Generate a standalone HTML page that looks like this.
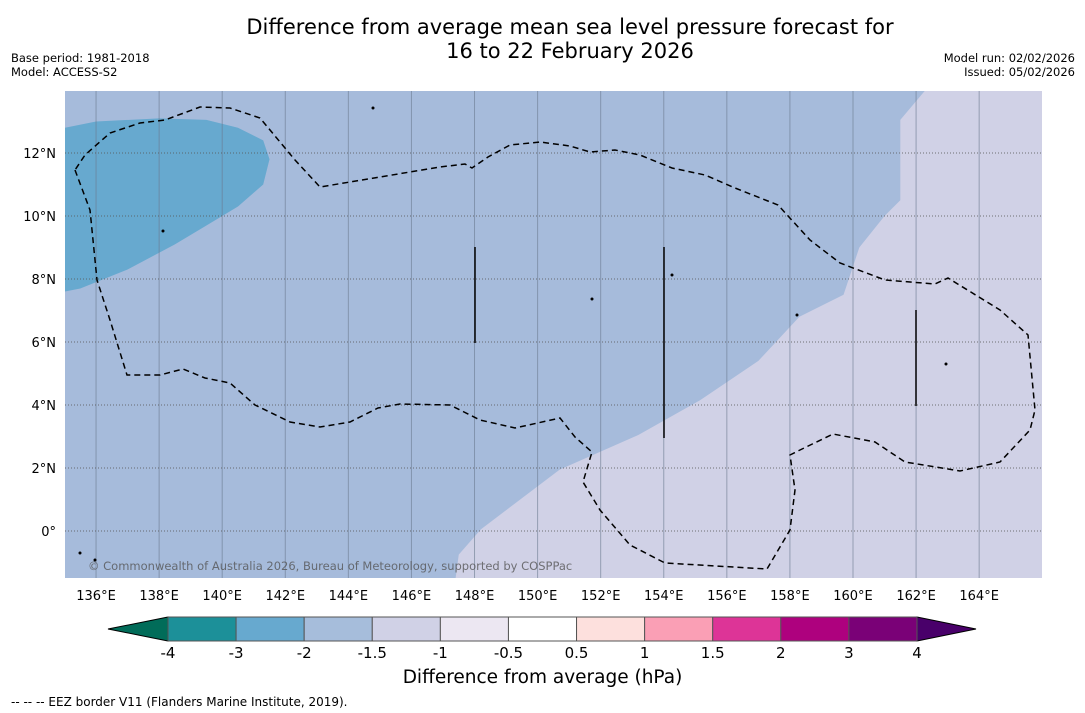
<!DOCTYPE html>
<html><head><meta charset="utf-8"><style>
body{margin:0;width:1085px;height:713px;background:#fff;font-family:"DejaVu Sans","Liberation Sans",sans-serif;position:relative;overflow:hidden}
.t{position:absolute;color:#000}
</style></head><body>
<div class="t" style="left:0;width:1140px;top:15px;text-align:center;font-size:21px;line-height:24px">Difference from average mean sea level pressure forecast for<br>16 to 22 February 2026</div>
<div class="t" style="left:11px;top:51px;font-size:11.5px;line-height:14px">Base period: 1981-2018<br>Model: ACCESS-S2</div>
<div class="t" style="right:10px;top:51px;font-size:11.5px;line-height:14px;text-align:right">Model run: 02/02/2026<br>Issued: 05/02/2026</div>
<svg id="map" width="1085" height="713" style="position:absolute;left:0;top:0"></svg>
<div class="t" style="left:0;width:1085px;top:667px;text-align:center;font-size:18.5px">Difference from average (hPa)</div>
<div class="t" style="left:11px;top:695px;font-size:12px">--  --  -- EEZ border V11 (Flanders Marine Institute, 2019).</div>
<script>
const lonTicks=[136,138,140,142,144,146,148,150,152,154,156,158,160,162,164];
const latTicks=[12,10,8,6,4,2,0];
const cbLevels=["-4","-3","-2","-1.5","-1","-0.5","0.5","1","1.5","2","3","4"];
const cbColors=["#1c9099","#67a9cf","#a6bddb","#d0d1e6","#ece7f2","#ffffff","#fde0dd","#fa9fb5","#dd3497","#ae017e","#7a0177"];
const darkRegion=[[135,12.8],[136,13.0],[138,13.1],[139.5,13.05],[140.5,12.8],[141.3,12.4],[141.5,11.8],[141.3,11],[140.5,10.3],[139.5,9.7],[138.5,9.1],[137,8.3],[135.5,7.7],[135,7.6]];
const lightRegion=[[162.3,14],[161.5,13.05],[161.5,10.5],[161,10],[160.2,9],[159.7,7.5],[158.3,6.8],[157,5.4],[155.15,4.15],[153.2,3.05],[150.7,1.95],[148.2,0.05],[147.5,-0.75],[147.4,-1.5],[166,-1.5],[166,14]];
const x0=65,x1=1042,y0=91,y1=578;
const X=lon=>64.5+(lon-135)*31.54, Y=lat=>531-lat*31.5;
const NS="http://www.w3.org/2000/svg", svg=document.getElementById('map');
function mk(tag,at,parent){const e=document.createElementNS(NS,tag);for(const k in at)e.setAttribute(k,at[k]);(parent||svg).appendChild(e);return e;}
const defs=mk('defs',{});const cp=mk('clipPath',{id:'c'},defs);mk('rect',{x:x0,y:y0,width:x1-x0,height:y1-y0},cp);
const g=mk('g',{'clip-path':'url(#c)'});
let e=mk('rect',{x:x0,y:y0,width:x1-x0,height:y1-y0,fill:'#a6bbdb'},g);


e=mk('polygon',{points:darkRegion.map(p=>X(p[0])+','+Y(p[1])).join(' '),fill:'#67a9cf'},g);


e=mk('polygon',{points:lightRegion.map(p=>X(p[0])+','+Y(p[1])).join(' '),fill:'#d0d1e6'},g);


lonTicks.forEach(l=>{const x=X(l);
 e=mk('line',{x1:x,x2:x,y1:y0,y2:y1,stroke:'#6a7a90','stroke-width':1,'stroke-opacity':0.6},g);
 
 
 e=mk('text',{x:x,y:600,'text-anchor':'middle','font-size':13,fill:'#000'});e.textContent=l+'°E';
 
 
});
latTicks.forEach(l=>{const y=Y(l);
 e=mk('line',{x1:x0,x2:x1,y1:y,y2:y,stroke:'#555','stroke-width':1,'stroke-dasharray':'1,2','stroke-opacity':0.8},g);
 
 
 e=mk('text',{x:56,y:y+5,'text-anchor':'end','font-size':13,fill:'#000'});e.textContent=l===0?'0°':l+'°N';
 
 
});
const eez="75,170 90,210 97,280 110,320 127,375 160,375 183,369 205,378 230,383 255,405 290,422 320,427 350,422 378,408 400,404 450,405 480,420 515,428 560,418 575,437 592,452 583,482 600,510 630,545 665,563 767,569 790,530 795,490 790,455 800,450 833,434 875,442 905,462 960,471 1000,462 1030,430 1035,410 1028,335 1000,310 948,278 935,284 885,280 840,263 810,240 778,205 735,188 705,175 672,168 640,155 615,150 590,152 570,146 540,142 510,145 488,157 472,168 465,164 440,167 320,187 295,160 260,118 230,108 200,107 165,120 140,123 110,133 85,155 75,170";
e=mk('polyline',{points:eez,fill:'none',stroke:'#000','stroke-width':1.5,'stroke-dasharray':'6,4'},g);


[[475,247,343],[664,247,438],[916,310,406]].forEach(v=>{
 e=mk('line',{x1:v[0],x2:v[0],y1:v[1],y2:v[2],stroke:'#000','stroke-width':1.5},g);
 
 
});
[[163,231],[373,108],[592,299],[797,315],[946,364],[672,275],[80,553],[95,560]].forEach(p=>{
 e=mk('circle',{cx:p[0],cy:p[1],r:1.5,fill:'#000'},g);
 
 
});
e=mk('text',{x:88,y:570,'font-size':11.5,fill:'#555','fill-opacity':0.8},g);e.textContent='© Commonwealth of Australia 2026, Bureau of Meteorology, supported by COSPPac';


const cbx0=168,cbx1=917,cby=617,cbh=24,n=cbColors.length,w=(cbx1-cbx0)/n;
e=mk('polygon',{points:`108,${cby+cbh/2} ${cbx0},${cby} ${cbx0},${cby+cbh}`,fill:'#016c59',stroke:'#000','stroke-width':1});


e=mk('polygon',{points:`976,${cby+cbh/2} ${cbx1},${cby} ${cbx1},${cby+cbh}`,fill:'#49006a',stroke:'#000','stroke-width':1});


cbColors.forEach((c,i)=>{
 e=mk('rect',{x:cbx0+i*w,y:cby,width:w,height:cbh,fill:c,stroke:'#555','stroke-width':1});
 
 
});
cbLevels.forEach((l,i)=>{
 e=mk('text',{x:cbx0+i*w,y:658,'text-anchor':'middle','font-size':15,fill:'#000'});e.textContent=l;
 
 
});
</script>
</body></html>
